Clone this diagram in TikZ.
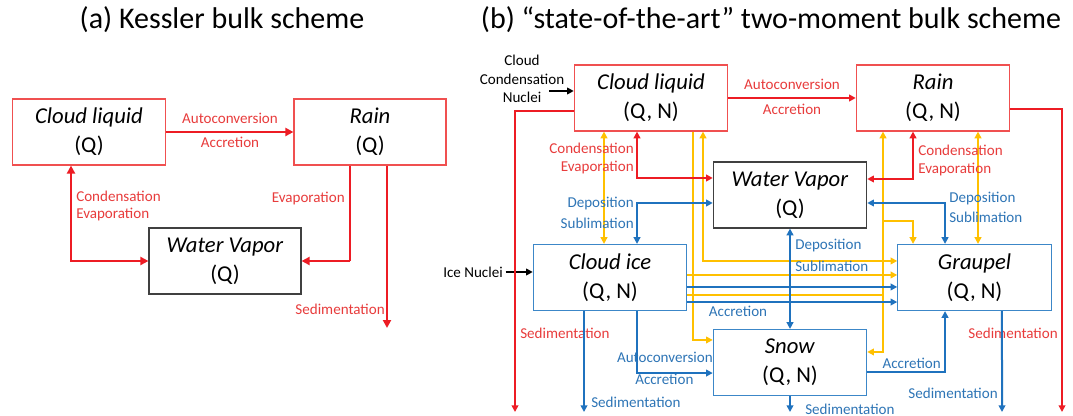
\documentclass[tikz,border=0pt]{standalone}
\usepackage{fontspec}
\setmainfont{Carlito}
\usetikzlibrary{arrows.meta,calc}
\definecolor{lred}{RGB}{237,28,36}
\definecolor{tred}{RGB}{232,60,60}
\definecolor{bred}{RGB}{240,80,80}
\definecolor{lblue}{RGB}{31,114,190}
\definecolor{tblue}{RGB}{46,117,182}
\definecolor{bblue}{RGB}{60,135,200}
\definecolor{lyel}{RGB}{255,192,0}
\begin{document}
\begin{tikzpicture}[x=0.75pt,y=-0.75pt,
  >={Triangle[length=5pt,width=5pt]},
  box/.style={draw, line width=0.9pt, inner sep=0pt, minimum width=115pt, minimum height=49.5pt, align=center, font=\fontsize{17}{21.75}\selectfont, fill=white},
  rbox/.style={box, draw=bred},
  bbox/.style={box, draw=bblue},
  kbox/.style={box, draw=black!75},
  lbl/.style={inner sep=0pt, font=\fontsize{11.3}{13.8}\selectfont},
  rl/.style={lbl, text=tred},
  bl/.style={lbl, text=tblue},
  kl/.style={lbl, text=black, align=center},
  rc/.style={draw=lred, line width=1.5pt},
  rca/.style={draw=lred, line width=2.2pt, >={Triangle[length=6pt,width=6pt]}},
  bc/.style={draw=lblue, line width=1.5pt},
  yc/.style={draw=lyel, line width=1.5pt},
  kc/.style={draw=black, line width=1.2pt},
  ttl/.style={inner sep=0pt, font=\fontsize{22.5}{27}\selectfont}
]
\useasboundingbox[fill=white] (0,0) rectangle (1073,416);

% titles
\node[ttl] (tA) at (222,20) {(a) Kessler bulk scheme};
\node[ttl] (tB) at (771,20) {(b) “state-of-the-art” two-moment bulk scheme};

% ---------------- panel (a)
\node[rbox] (aCL) at (89,132) {\textit{Cloud liquid}\\(Q)};
\node[rbox, minimum width=114pt] (aR) at (370,132) {\textit{Rain}\\(Q)};
\node[kbox, minimum width=114pt] (aWV) at (225,261) {\textit{Water Vapor}\\(Q)};

\draw[rca, ->] (aCL) -- (aR);
\node[rl] (aAuto) at (230,118) {Autoconversion};
\node[rl] (aAcc) at (230,142) {Accretion};

\draw[rca, <->] ([xshift=-13.5pt]aCL.south) |- (aWV.west);
\node[rl, anchor=west] (aCond) at (76,196) {Condensation};
\node[rl, anchor=west] (aEvap) at (76,215) {Evaporation};

\coordinate (aRc) at ([xshift=-15pt]aR.south |- aWV.east);
\draw[draw=lred, line width=1pt] ([xshift=-15pt]aR.south) -- (aRc);
\draw[rca, ->] (aRc) -- (aWV.east);
\node[rl, anchor=east] (aEvap2) at (345,199) {Evaporation};

\coordinate (aSed) at (387,328);
\draw[rca, ->] ([xshift=12.75pt]aR.south) -- (aSed);
\node[rl, anchor=east] (aSedL) at (385,309) {Sedimentation};

% ---------------- panel (b)
\node[rbox] (bCL) at (651,98) {\textit{Cloud liquid}\\(Q, N)};
\node[rbox] (bR) at (933,98) {\textit{Rain}\\(Q, N)};
\node[kbox] (bWV) at (790,195) {\textit{Water Vapor}\\(Q)};
\node[bbox] (bCI) at (610,277.5) {\textit{Cloud ice}\\(Q, N)};
\node[bbox] (bG) at (974.5,277.5) {\textit{Graupel}\\(Q, N)};
\node[bbox] (bS) at (790,362.5) {\textit{Snow}\\(Q, N)};

% nuclei
\node[kl] (ccn) at (522,79) {Cloud\\Condensation\\Nuclei};
\coordinate (ccnA) at (549,91);
\draw[kc, ->] (ccnA) -- (ccnA -| bCL.west);
\node[kl] (iceN) at (473,272) {Ice Nuclei};
\draw[kc, ->] ([xshift=2pt]iceN.east) -- (iceN.east -| bCI.west);

% cloud liquid -> rain
\draw[rc, ->] (bCL) -- (bR);
\node[rl] (bAuto) at (792,84) {Autoconversion};
\node[rl] (bAcc) at (792,109) {Accretion};

% sedimentation red
\coordinate (bCLsed) at (515,412);
\draw[rc, ->] ([yshift=-9.75pt]bCL.west) -| (bCLsed);
\node[rl, anchor=west] (bCLsedL) at (520,333) {Sedimentation};
\coordinate (bRsed) at (1062,412);
\draw[rc, ->] ([yshift=-8.25pt]bR.east) -| (bRsed);
\node[rl, anchor=east] (bRsedL) at (1058,333) {Sedimentation};

% yellow lines
\draw[yc, <->] ([xshift=-35.25pt]bCL.south) -- ([xshift=-35.25pt]bCL.south |- bCI.north);
\draw[yc, <->] ([xshift=39pt]bCL.south) |- ([yshift=12.4pt]bG.west);
\draw[yc, line width=1.1pt, ->] ([xshift=31.5pt]bCL.south) |- ([yshift=16.9pt]bS.west);
\draw[yc, ->] ([yshift=1.9pt]bCI.east) -- ([yshift=1.9pt]bG.west);
\coordinate (rY) at ([xshift=-37.5pt]bR.south);
\draw[yc] ([yshift=-13.1pt]bCI.east) -- ([yshift=-13.1pt]bCI.east -| rY);
\draw[yc, <->] (rY) |- ([yshift=7.9pt]bS.east);
\coordinate (yb) at (883,221);
\draw[yc, ->] (yb) -| ([xshift=-46.1pt]bG.north);
\draw[yc, <->] ([xshift=33.75pt]bR.south) -- ([xshift=33.75pt]bR.south |- bG.north);

% blue lines to graupel from cloud ice
\draw[bc, ->] ([yshift=-7.1pt]bCI.east) -- ([yshift=-7.1pt]bG.west);
\draw[bc, ->] ([yshift=-18.4pt]bCI.east) -- ([yshift=-18.4pt]bG.west);
\node[bl] (bAccCI) at (738,311) {Accretion};

% red condensation / evaporation
\draw[rc, <->] ([xshift=-10.5pt]bCL.south) |- ([yshift=12.75pt]bWV.west);
\node[rl, anchor=east] (bCond1) at (634,148) {Condensation};
\node[rl, anchor=east] (bEvap1) at (634,168) {Evaporation};
\draw[rc, <->] ([xshift=-15pt]bR.south) |- ([yshift=12pt]bWV.east);
\node[rl, anchor=west] (bCond2) at (918,150) {Condensation};
\node[rl, anchor=west] (bEvap2) at (918,170) {Evaporation};

% blue deposition / sublimation
\draw[bc, <->] ([yshift=-6pt]bWV.west) -| ([xshift=20.25pt]bCI.north);
\node[bl, anchor=east] (bDep1) at (634,204) {Deposition};
\node[bl, anchor=east] (bSub1) at (634,223) {Sublimation};
\draw[bc, <->] ([yshift=-6pt]bWV.east) -| ([xshift=-22.1pt]bG.north);
\node[bl, anchor=west] (bDep2) at (949,199) {Deposition};
\node[bl, anchor=west] (bSub2) at (949,217) {Sublimation};
\draw[bc, <->] (bWV.south) -- (bS.north);
\node[bl, anchor=west] (bDep3) at (795,246) {Deposition};
\node[bl, anchor=west] (bSub3) at (795,266) {Sublimation};

% cloud ice -> snow, sedimentation
\coordinate (bCIsed) at (584,412);
\draw[bc, ->] ([xshift=-19.5pt]bCI.south) -- (bCIsed);
\node[bl, anchor=west] (bCIsedL) at (591,402) {Sedimentation};
\draw[bc, ->] ([xshift=20.25pt]bCI.south) |- ([yshift=-7.9pt]bS.west);
\node[bl, anchor=east] (bAutoS) at (713,357) {Autoconversion};
\node[bl, anchor=west] (bAccS) at (635,379) {Accretion};

% snow
\coordinate (bSsed) at (790,412);
\draw[bc, ->] (bS.south) -- (bSsed);
\node[bl, anchor=west] (bSsedL) at (805,409) {Sedimentation};
\draw[bc, ->] ([yshift=-7.1pt]bS.east) -| ([xshift=-22.1pt]bG.south);
\node[bl, anchor=east] (bAccG) at (941,363) {Accretion};

% graupel sedimentation
\coordinate (bGsed) at (1002,412);
\draw[bc, ->] ([xshift=20.6pt]bG.south) -- (bGsed);
\node[bl, anchor=east] (bGsedL) at (998,393) {Sedimentation};
\end{tikzpicture}
\end{document}
